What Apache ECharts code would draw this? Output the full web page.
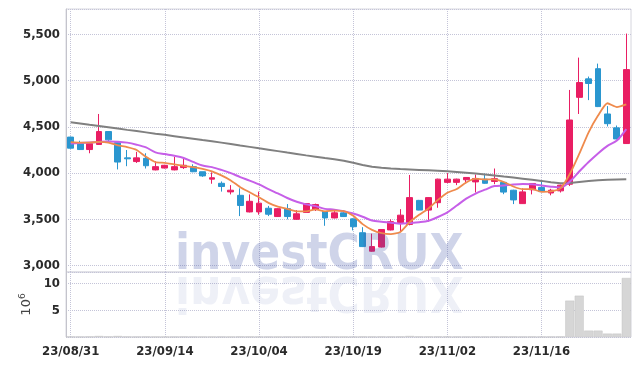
<!DOCTYPE html>
<html><head><meta charset="utf-8">
<script src="https://cdn.jsdelivr.net/npm/echarts@6/dist/echarts.min.js"></script>
<style>html,body{margin:0;padding:0;background:#fff}#c{width:639px;height:366px}</style>
</head><body><div id="c"></div>
<script>
const dates = ['23/08/31','23/09/01','23/09/04','23/09/05','23/09/06','23/09/07','23/09/08','23/09/11','23/09/12','23/09/13','23/09/14','23/09/15','23/09/18','23/09/19','23/09/20','23/09/21','23/09/22','23/09/25','23/09/26','23/09/27','23/10/04','23/10/05','23/10/06','23/10/10','23/10/11','23/10/12','23/10/13','23/10/16','23/10/17','23/10/18','23/10/19','23/10/20','23/10/23','23/10/24','23/10/25','23/10/26','23/10/27','23/10/30','23/10/31','23/11/01','23/11/02','23/11/03','23/11/06','23/11/07','23/11/08','23/11/09','23/11/10','23/11/13','23/11/14','23/11/15','23/11/16','23/11/17','23/11/20','23/11/21','23/11/22','23/11/23','23/11/24','23/11/27','23/11/28','23/11/29'];
const opens  = [4390,4320,4255,4310,4450,4330,4165,4125,4160,4035,4055,4035,4060,4070,4015,3935,3890,3797,3760,3580,3580,3620,3530,3615,3500,3575,3605,3585,3515,3570,3505,3355,3155,3200,3385,3465,3445,3705,3600,3680,3900,3900,3928,3905,3935,3910,3900,3815,3670,3820,3845,3785,3808,3880,4820,5020,5130,4640,4490,4320];
const closes = [4270,4255,4320,4450,4360,4120,4155,4165,4080,4070,4085,4070,4085,4015,3970,3950,3855,3815,3650,3695,3675,3555,3615,3530,3560,3670,3660,3515,3570,3530,3420,3205,3205,3390,3475,3545,3735,3600,3735,3935,3935,3935,3953,3942,3890,3940,3795,3710,3797,3888,3800,3815,3870,4575,4980,4970,4720,4535,4370,5120];
const lows   = [4265,4250,4215,4305,4330,4040,4075,4110,4050,4030,4050,4030,4045,4010,3960,3885,3800,3770,3535,3575,3550,3535,3525,3500,3495,3570,3590,3430,3510,3525,3380,3200,3150,3195,3380,3360,3435,3598,3475,3625,3890,3870,3900,3790,3885,3880,3772,3665,3668,3770,3798,3760,3790,3860,4640,4790,4715,4505,4365,4315];
const highs  = [4395,4350,4325,4640,4455,4345,4250,4230,4215,4130,4090,4175,4160,4095,4015,4008,3910,3870,3835,3770,3800,3645,3620,3665,3600,3675,3670,3590,3600,3600,3510,3415,3345,3395,3500,3610,3980,3710,3740,3940,4000,3940,3955,3985,3995,4050,3900,3820,3835,3890,3925,3830,3875,4900,5250,5045,5185,4725,4515,5510];
const volumes = [0.05,0.04,0.06,0.19,0.06,0.19,0.05,0.04,0.05,0.03,0.03,0.04,0.05,0.04,0.03,0.03,0.04,0.03,0.06,0.05,0.04,0.04,0.03,0.04,0.03,0.04,0.03,0.05,0.03,0.03,0.04,0.06,0.05,0.06,0.05,0.06,0.19,0.06,0.07,0.08,0.06,0.05,0.04,0.05,0.04,0.05,0.05,0.05,0.04,0.05,0.04,0.04,0.05,6.82,7.75,1.2,1.2,0.64,0.64,11.07];
const ma5  = [4335,4330,4330,4338,4331,4301,4281,4250,4176,4118,4111,4094,4078,4065,4045,4018,3975,3921,3848,3793,3738,3678,3638,3614,3587,3586,3607,3587,3595,3589,3539,3448,3386,3350,3339,3364,3470,3549,3618,3710,3788,3828,3899,3940,3931,3932,3904,3855,3826,3826,3798,3802,3834,3990,4208,4442,4623,4756,4715,4743];
const ma10 = [4320,4326,4332,4338,4342,4340,4330,4308,4278,4225,4206,4188,4164,4121,4082,4065,4035,4000,3957,3919,3878,3827,3780,3731,3690,3662,3643,3613,3605,3588,3563,3528,3487,3473,3464,3452,3459,3468,3484,3525,3576,3649,3724,3779,3821,3860,3866,3877,3883,3879,3865,3853,3845,3908,4017,4120,4213,4295,4352,4476];
const ma60 = [4550,4537,4523,4510,4496,4482,4468,4455,4441,4427,4414,4400,4386,4372,4358,4345,4330,4315,4299,4284,4268,4253,4238,4222,4207,4192,4178,4163,4149,4134,4112,4088,4068,4057,4050,4044,4040,4035,4030,4025,4020,4012,4004,3995,3985,3975,3963,3952,3940,3928,3916,3902,3890,3892,3905,3915,3922,3928,3932,3935];
const priceTicks = [3000,3500,4000,4500,5000,5500];
const volumeTicks = [5,10];

const FONT = "'Liberation Sans Narrow','DejaVu Sans Condensed','Liberation Sans',sans-serif";
const UP = '#e91e63', DOWN = '#2a96cf';
const gridLine = {show:true, lineStyle:{type:'dotted', color:'#c4c4d8', width:1}};
const xSplit = {show:true, interval:9, alignWithLabel:true, lineStyle:{type:'dotted', color:'#c4c4d8', width:1}};
const labelStyle = {fontSize:13, fontWeight:'bold', fontFamily:FONT, color:'#2a2a2a'};

const chart = echarts.init(document.getElementById('c'), null, {renderer:'canvas'});
chart.setOption({
  animation:false,
  backgroundColor:'#fff',
  grid:[
    {left:66, right:8, top:9, height:263, show:true, borderColor:'#d6d6de', borderWidth:1},
    {left:66, right:8, top:272, height:65, show:true, borderColor:'#d6d6de', borderWidth:1}
  ],
  xAxis:[
    {type:'category', gridIndex:0, data:dates, boundaryGap:true, axisLine:{show:false}, axisTick:{show:false}, axisLabel:{show:false}, splitLine:xSplit},
    {type:'category', gridIndex:1, data:dates, boundaryGap:true, axisLine:{show:false}, axisTick:{show:false},
     axisLabel:Object.assign({interval:9, margin:8}, labelStyle), splitLine:xSplit}
  ],
  yAxis:[
    {type:'value', gridIndex:0, min:2930, max:5776, splitNumber:5, scale:true,
     axisLine:{show:true, lineStyle:{color:'#c4c4cc'}}, axisTick:{show:false},
     axisLabel:Object.assign({margin:6,
       formatter:v => priceTicks.includes(Math.round(v)) ? Math.round(v).toLocaleString('en-US') : ''}, labelStyle),
     splitLine:gridLine},
    {type:'value', gridIndex:1, min:0, max:12.19, splitNumber:2,
     axisLine:{show:true, lineStyle:{color:'#c4c4cc'}}, axisTick:{show:false},
     axisLabel:Object.assign({margin:6,
       formatter:v => volumeTicks.includes(v) ? String(v) : ''}, labelStyle),
     splitLine:gridLine,
     name:'{a|10}{b|6}', nameLocation:'middle', nameRotate:90, nameGap:30,
     nameTextStyle:{rich:{a:{fontSize:13, fontFamily:'DejaVu Sans', color:'#444', verticalAlign:'bottom'}, b:{fontSize:9, fontFamily:'DejaVu Sans', color:'#444', verticalAlign:'top', padding:[0,0,6,0]}}}}
  ],
  series:[
    {type:'candlestick', xAxisIndex:0, yAxisIndex:0, barWidth:'68%',
     data:dates.map((d,i)=>[opens[i], closes[i], lows[i], highs[i]]),
     itemStyle:{color:UP, color0:DOWN, borderColor:UP, borderColor0:DOWN, borderWidth:1}, z:2},
    {type:'line', xAxisIndex:0, yAxisIndex:0, data:ma60, symbol:'none', smooth:false, lineStyle:{color:'#808080', width:2}, z:3},
    {type:'line', xAxisIndex:0, yAxisIndex:0, data:ma10, symbol:'none', smooth:0.3, lineStyle:{color:'#c65fe8', width:2}, z:4},
    {type:'line', xAxisIndex:0, yAxisIndex:0, data:ma5, symbol:'none', smooth:0.2, lineStyle:{color:'#ef8a4c', width:1.8}, z:5},
    {type:'bar', xAxisIndex:1, yAxisIndex:1, data:volumes, barCategoryGap:'4%',
     itemStyle:{color:'#d6d6d6', borderColor:'#c4c4c4', borderWidth:0.5}}
  ],
  graphic:[
    {type:'text', silent:true, z:100, x:175, y:256,
     style:{text:'investCRUX', fill:'rgba(70,90,170,0.26)', fontSize:49, fontWeight:'bold', fontFamily:FONT, verticalAlign:'middle'}},
    {type:'text', silent:true, z:100, x:175, y:273, scaleY:-1,
     style:{text:'investCRUX', x:0, y:-17, fill:'rgba(70,90,170,0.09)', fontSize:49, fontWeight:'bold', fontFamily:FONT, verticalAlign:'middle'}}
  ]
});
</script>
</body></html>
